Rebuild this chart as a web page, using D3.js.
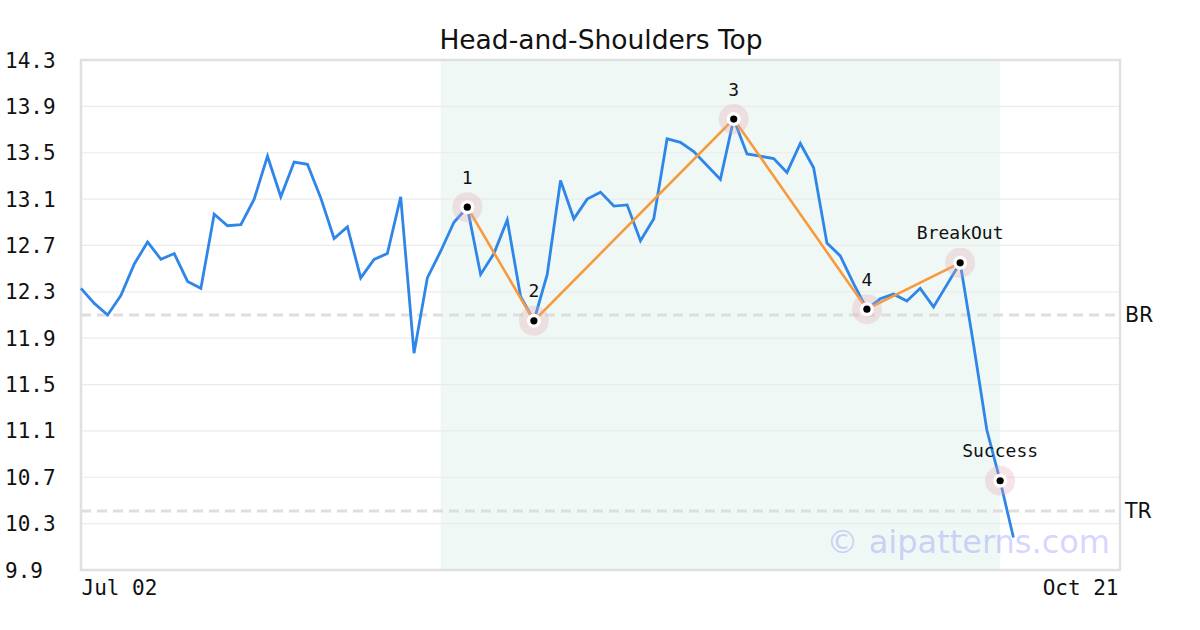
<!DOCTYPE html>
<html><head><meta charset="utf-8">
<script src="https://cdn.jsdelivr.net/npm/d3@7"></script>
<style>
html,body{margin:0;padding:0;background:#fff;}
svg{display:block;}
</style>
</head><body>
<svg id="chart" width="1200" height="630"></svg>
<script>
const title = "Head-and-Shoulders Top";
const prices = [12.33,12.20,12.10,12.27,12.54,12.73,12.58,12.63,12.39,12.33,
  12.97,12.87,12.88,13.10,13.47,13.12,13.42,13.40,13.11,12.76,
  12.86,12.42,12.58,12.63,13.12,11.77,12.42,12.65,12.90,13.03,
  12.45,12.63,12.92,12.26,12.05,12.45,13.26,12.93,13.10,13.16,
  13.04,13.05,12.74,12.93,13.62,13.59,13.51,13.39,13.27,13.79,
  13.49,13.47,13.45,13.33,13.58,13.37,12.72,12.61,12.37,12.15,
  12.24,12.28,12.22,12.33,12.17,12.36,12.55,11.85,11.11,10.67,10.18];
const pivotIdx = [29,34,49,59,66];
const pivotLabels = ["1","2","3","4","BreakOut"];
const successIdx = 69;
const successLabel = "Success";
const patternRange = [27,69];
const xDomain = [0,78];
const xTickValues = [0,78];
const xTickLabels = ["Jul 02","Oct 21"];
const yTicks = [14.3,13.9,13.5,13.1,12.7,12.3,11.9,11.5,11.1,10.7,10.3,9.9];
const levelValues = [12.10,10.41];
const levelLabels = ["BR","TR"];
const watermark = "© aipatterns.com";

const svg = d3.select("#chart");
const L=81,R=1120,T=60,B=570;
const x = d3.scaleLinear().domain(xDomain).range([L,R]);
const y = d3.scaleLinear().domain([9.9,14.3]).range([B,T]);
const mono = "'DejaVu Sans Mono', monospace";
const sans = "'DejaVu Sans', sans-serif";

// shading
svg.append("rect").attr("x",x(patternRange[0])).attr("y",T)
  .attr("width",x(patternRange[1])-x(patternRange[0])).attr("height",B-T)
  .attr("fill","#eff8f4");

// gridlines
svg.append("g").selectAll("line").data(yTicks.slice(1,-1)).join("line")
  .attr("x1",L).attr("x2",R).attr("y1",d=>y(d)).attr("y2",d=>y(d))
  .attr("stroke","#ebebeb").attr("stroke-width",1.2);

// y labels
svg.append("g").selectAll("text").data(yTicks).join("text")
  .attr("x",5).attr("y",d=>y(d)).attr("dy","0.36em")
  .attr("font-family",mono).attr("font-size",21).attr("fill","#111")
  .text(d=>d.toFixed(1));

// level lines
levelValues.forEach((v,i)=>{
  svg.append("line").attr("x1",L).attr("x2",R).attr("y1",y(v)).attr("y2",y(v))
    .attr("stroke","#dedede").attr("stroke-width",3).attr("stroke-dasharray","10,6");
  svg.append("text").attr("x",R+5).attr("y",y(v)).attr("dy","0.36em")
    .attr("font-family",sans).attr("font-size",20.5).attr("fill","#111").text(levelLabels[i]);
});

// frame
svg.append("rect").attr("x",L).attr("y",T).attr("width",R-L).attr("height",B-T)
  .attr("fill","none").attr("stroke","#e0e0e0").attr("stroke-width",2.5);

// x axis
const xAxis = d3.axisBottom(x).tickValues(xTickValues).tickSize(0)
  .tickFormat((d,i)=>xTickLabels[i]);
const gx = svg.append("g").attr("transform",`translate(0,${B})`).call(xAxis);
gx.select(".domain").remove();
gx.selectAll("text").attr("font-family",mono).attr("font-size",21).attr("fill","#111")
  .attr("y",25).attr("dy","0")
  .attr("text-anchor",(d,i)=>i===0?"start":"end")
  .attr("dx",(d,i)=>i===0?"0":"-2");

// watermark
svg.append("text").attr("x",1110).attr("y",553).attr("text-anchor","end")
  .attr("font-family",sans).attr("font-size",32).attr("fill","rgba(110,110,255,0.3)")
  .text(watermark);

// price line
const line = d3.line().x((d,i)=>x(i)).y(d=>y(d));
svg.append("path").datum(prices).attr("d",line).attr("fill","none")
  .attr("stroke","#2e86e8").attr("stroke-width",2.8).attr("stroke-linejoin","miter");

// pattern line
const pline = d3.line().x(i=>x(i)).y(i=>y(prices[i]));
svg.append("path").datum(pivotIdx).attr("d",pline).attr("fill","none")
  .attr("stroke","#f79a3e").attr("stroke-width",2.6);

// markers
const marks = pivotIdx.map((d,i)=>({i:d,label:pivotLabels[i]})).concat([{i:successIdx,label:successLabel}]);
const mg = svg.append("g").selectAll("g").data(marks).join("g")
  .attr("transform",d=>`translate(${x(d.i)},${y(prices[d.i])})`);
mg.append("circle").attr("r",15).attr("fill","rgba(225,165,180,0.3)");
mg.append("circle").attr("r",7).attr("fill","#fff");
mg.append("circle").attr("r",3.6).attr("fill","#000");
mg.append("text").attr("y",-30).attr("dy","0.36em").attr("text-anchor","middle")
  .attr("font-family",mono).attr("font-size",18).attr("fill","#111").text(d=>d.label);

// title
svg.append("text").attr("x",601).attr("y",49).attr("text-anchor","middle")
  .attr("font-family",sans).attr("font-size",26.5).attr("fill","#111").text(title);
</script>
</body></html>
